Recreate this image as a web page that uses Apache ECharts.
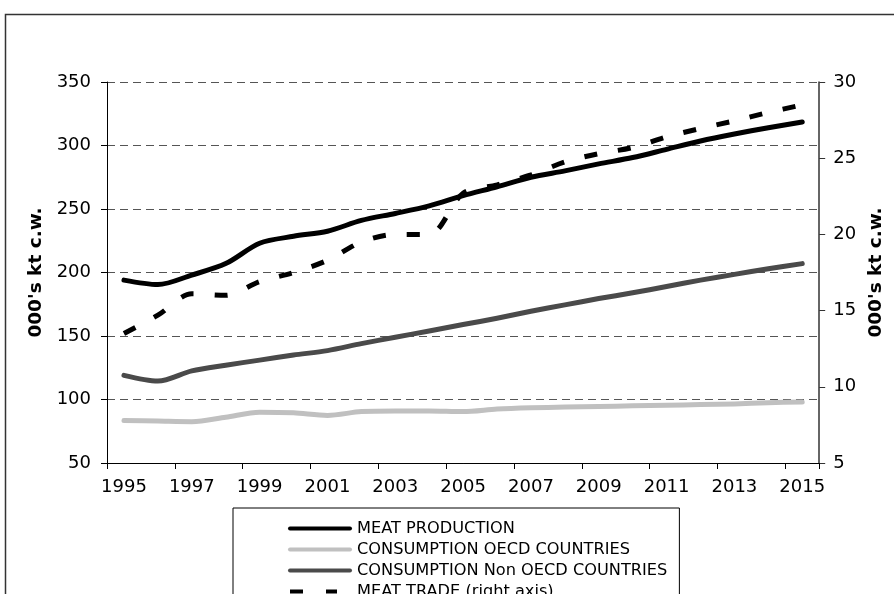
<!DOCTYPE html>
<html>
<head>
<meta charset="utf-8">
<script src="https://cdn.jsdelivr.net/npm/echarts@6/dist/echarts.min.js"></script>
<style>
html,body{margin:0;padding:0;background:#fff;}
#chart{width:894px;height:594px;}
</style>
</head>
<body>
<div id="chart"></div>
<script>
const years = ['1995','1996','1997','1998','1999','2000','2001','2002','2003','2004','2005','2006','2007','2008','2009','2010','2011','2012','2013','2014','2015'];
const meatProduction = [194, 190.5, 198, 207, 223, 228.5, 232.5, 241, 246.5, 252.5, 260.5, 267.5, 275, 280, 285.5, 290.5, 297, 303.5, 309, 314, 318.5];
const consumptionOECD = [83.5, 83, 82.5, 86, 90, 89.5, 87.5, 90.5, 91, 91, 90.5, 92.5, 93.5, 94, 94.5, 95, 95.5, 96, 96.5, 97.5, 98];
const consumptionNonOECD = [119, 114.5, 122.5, 127, 131, 135, 138.5, 144, 149, 154, 159, 164, 169.5, 174.5, 179.5, 184, 189, 194, 198.5, 203, 207];
const meatTrade = [13.5, 14.7, 16.1, 16.0, 16.9, 17.5, 18.3, 19.5, 20.0, 20.0, 22.7, 23.25, 23.9, 24.75, 25.3, 25.7, 26.4, 26.95, 27.45, 28.0, 28.5];
const seriesNames = ['MEAT PRODUCTION', 'CONSUMPTION OECD COUNTRIES', 'CONSUMPTION Non OECD COUNTRIES', 'MEAT TRADE (right axis)'];
const axisName = "000's kt c.w.";

const FONT = 'DejaVu Sans';
const solidIcon = 'path://M2,0L62,0A2,2,0,0,1,62,4L2,4A2,2,0,0,1,2,0Z';
const dashIcon = 'path://M2,0L15,0L15,4L2,4Z M38,0L49,0L49,4L38,4Z M0,2L0,2 M64,2L64,2';

const chart = echarts.init(document.getElementById('chart'));
chart.setOption({
  backgroundColor: '#fff',
  animation: false,
  textStyle: { fontFamily: FONT },
  graphic: [{
    type: 'rect', silent: true,
    shape: { x: 5.5, y: 14.5, width: 900, height: 600 },
    style: { fill: 'none', stroke: '#333', lineWidth: 1.5 }
  }],
  grid: { left: 107, right: 72, top: 82, bottom: 131, containLabel: false },
  legend: {
    orient: 'vertical', left: 233, top: 508, height: 300,
    padding: [10, 12, 12, 55],
    borderColor: '#000', borderWidth: 1,
    itemWidth: 64, itemHeight: 4, itemGap: 0,
    textStyle: { fontSize: 16.2, lineHeight: 21, color: '#000', fontFamily: FONT },
    data: [
      { name: seriesNames[0], icon: solidIcon },
      { name: seriesNames[1], icon: solidIcon },
      { name: seriesNames[2], icon: solidIcon },
      { name: seriesNames[3], icon: dashIcon }
    ]
  },
  xAxis: {
    type: 'category', data: years, boundaryGap: true,
    axisLine: { lineStyle: { color: '#000', width: 1 } },
    axisTick: { show: true, interval: 1, length: 6, lineStyle: { color: '#000' } },
    axisLabel: { interval: 1, fontSize: 18, color: '#000', margin: 15, fontFamily: FONT },
    splitLine: { show: false }
  },
  yAxis: [{
    type: 'value', min: 50, max: 350, interval: 50,
    name: axisName, nameLocation: 'middle', nameGap: 57,
    nameTextStyle: { fontSize: 18.5, fontWeight: 'bold', color: '#000', fontFamily: FONT },
    axisLine: { show: true, lineStyle: { color: '#000', width: 1 } },
    axisTick: { show: true, length: 6, lineStyle: { color: '#000' } },
    axisLabel: { fontSize: 18, color: '#000', margin: 16, fontFamily: FONT },
    splitLine: { show: true, lineStyle: { color: '#555', width: 1, type: [8, 5] } }
  }, {
    type: 'value', min: 5, max: 30, interval: 5, position: 'right',
    name: axisName, nameLocation: 'middle', nameGap: 46, nameRotate: 90,
    nameTextStyle: { fontSize: 18.5, fontWeight: 'bold', color: '#000', fontFamily: FONT },
    axisLine: { show: true, lineStyle: { color: '#333', width: 1.5 } },
    axisTick: { show: true, length: 6, lineStyle: { color: '#333' } },
    axisLabel: { fontSize: 18, color: '#000', margin: 14, fontFamily: FONT },
    splitLine: { show: false }
  }],
  series: [{
    name: seriesNames[0], type: 'line', data: meatProduction, yAxisIndex: 0,
    smooth: 0.3, symbol: 'none', color: '#000',
    lineStyle: { color: '#000', width: 5, cap: 'round', join: 'round' }
  }, {
    name: seriesNames[1], type: 'line', data: consumptionOECD, yAxisIndex: 0,
    smooth: 0.3, symbol: 'none', color: '#c0c0c0',
    lineStyle: { color: '#c0c0c0', width: 5, cap: 'round', join: 'round' }
  }, {
    name: seriesNames[2], type: 'line', data: consumptionNonOECD, yAxisIndex: 0,
    smooth: 0.3, symbol: 'none', color: '#4a4a4a',
    lineStyle: { color: '#4a4a4a', width: 5, cap: 'round', join: 'round' }
  }, {
    name: seriesNames[3], type: 'line', data: meatTrade, yAxisIndex: 1,
    smooth: 0.3, symbol: 'none', color: '#000',
    lineStyle: { color: '#000', width: 5, type: [13, 21], cap: 'butt' }
  }]
});
</script>
</body>
</html>
